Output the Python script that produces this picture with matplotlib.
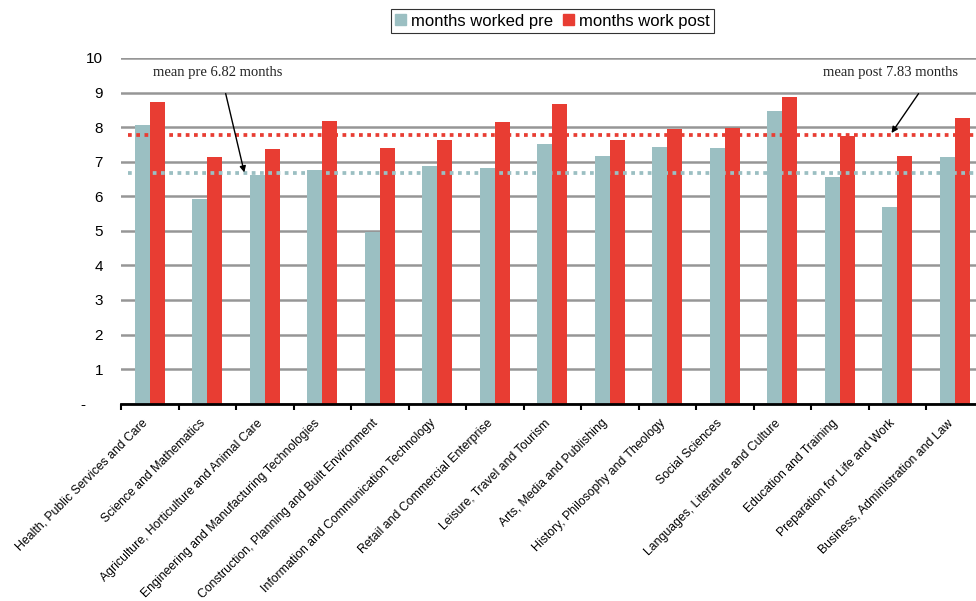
import numpy as np
import matplotlib.pyplot as plt
import matplotlib.transforms as mtransforms
from matplotlib.patches import Patch

categories = ['Health, Public Services and Care', 'Science and Mathematics',
              'Agriculture, Horticulture and Animal Care',
              'Engineering and Manufacturing Technologies',
              'Construction, Planning and Built Environment',
              'Information and Communication Technology',
              'Retail and Commercial Enterprise', 'Leisure, Travel and Tourism',
              'Arts, Media and Publishing', 'History, Philosophy and Theology',
              'Social Sciences', 'Languages, Literature and Culture',
              'Education and Training', 'Preparation for Life and Work',
              'Business, Administration and Law']
pre = [8.06, 5.91, 6.61, 6.75, 4.97, 6.87, 6.81, 7.51, 7.16, 7.42,
       7.40, 8.47, 6.56, 5.69, 7.14]
post = [8.72, 7.13, 7.36, 8.17, 7.39, 7.62, 8.14, 8.66, 7.62, 7.94,
        7.98, 8.87, 7.75, 7.16, 8.26]
mean_pre_line = 6.67
mean_post_line = 7.77
yticks = list(range(0, 11))
ytick_labels = ['-    '] + [str(i) for i in range(1, 11)]

teal = '#9BBFC2'
red = '#E83D33'

fig = plt.figure(figsize=(9.76, 6.01), dpi=100)
ax = fig.add_axes([0.124, 0.3283, 0.8837, 0.5752])

x = np.arange(len(categories))
w = 0.26
ax.bar(x - w/2, pre, w, color=teal, zorder=2)
ax.bar(x + w/2, post, w, color=red, zorder=2)

ax.plot([-0.38, 14.6], [mean_post_line]*2, color=red, lw=2.7,
        ls=(0, (1, 1.2)), dash_capstyle='butt', zorder=3)
ax.plot([-0.38, 14.6], [mean_pre_line]*2, color=teal, lw=2.7,
        ls=(0, (1, 1.2)), dash_capstyle='butt', zorder=3)

ax.set_xlim(-0.5, 14.5)
ax.set_ylim(0, 10)
ax.set_yticks(yticks)
ax.set_yticklabels(ytick_labels, fontsize=11, family='Liberation Sans')
ax.tick_params(axis='y', length=0, pad=13)
ax.yaxis.grid(True, color='#969696', lw=1.8)
ax.set_axisbelow(True)

ax.set_xticks(x)
ax.set_xticklabels(categories, rotation=45, ha='right', va='center',
                   rotation_mode='anchor', fontsize=8.8, family='Liberation Sans')
ax.set_xticks(np.arange(-0.5, 15, 1), minor=True)
ax.tick_params(axis='x', which='major', length=0, pad=12)
ax.tick_params(axis='x', which='minor', length=4, width=1.5, direction='out')
shift = mtransforms.ScaledTranslation(-4/100, -1/100, fig.dpi_scale_trans)
for lab in ax.get_xticklabels():
    lab.set_transform(lab.get_transform() + shift)

for s in ['left', 'right', 'top']:
    ax.spines[s].set_visible(False)
ax.spines['bottom'].set_linewidth(2)
ax.spines['bottom'].set_color('black')

arrow = dict(arrowstyle='-|>', color='black', lw=1, mutation_scale=9,
             shrinkA=0, shrinkB=0)
ax.text(0.057, 9.59, 'mean pre 6.82 months', fontsize=10.5,
        family='Liberation Serif', color='#222222', ha='left', va='center')
ax.annotate('', xy=(1.644, 6.69), xytext=(1.32, 8.97), arrowprops=arrow, zorder=5)
ax.text(14.06, 9.59, 'mean post 7.83 months', fontsize=10.5,
        family='Liberation Serif', color='#222222', ha='right', va='center')
ax.annotate('', xy=(12.90, 7.83), xytext=(13.37, 8.97), arrowprops=arrow, zorder=5)

handles = [Patch(color=teal, label='months worked pre'),
           Patch(color=red, label='months work post')]
leg = fig.legend(handles=handles, loc='center', bbox_to_anchor=(0.566, 0.965),
                 ncol=2, frameon=True, fancybox=False, edgecolor='black',
                 prop={'family': 'Liberation Sans', 'size': 12},
                 handlelength=0.65, handleheight=0.65, handletextpad=0.3,
                 columnspacing=0.6, borderpad=0.25, borderaxespad=0)
leg.get_frame().set_linewidth(0.8)

fig.savefig('out.png', dpi=100)
